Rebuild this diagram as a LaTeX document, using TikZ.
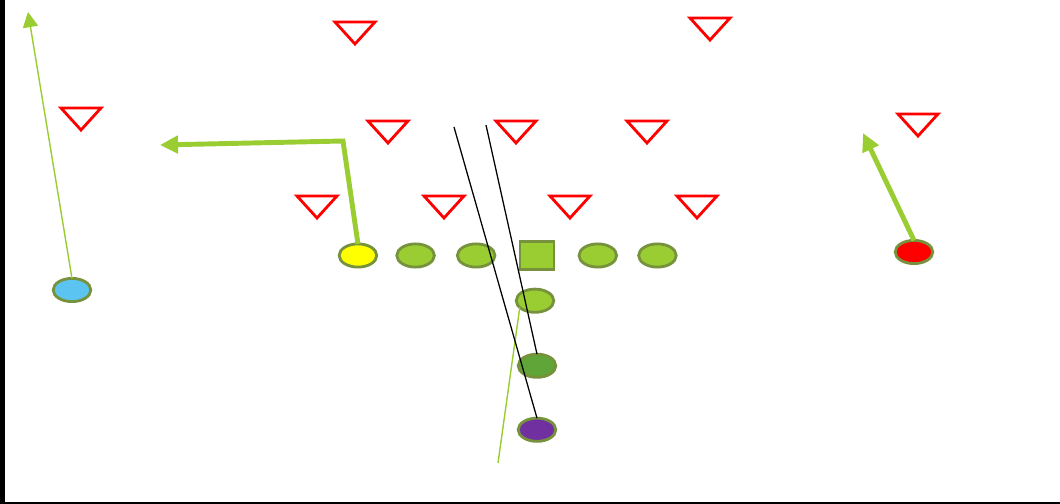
\documentclass[tikz,border=0pt]{standalone}
\definecolor{routecol}{RGB}{154,205,50}
\definecolor{olinecol}{RGB}{118,146,60}
\definecolor{defcol}{RGB}{255,0,0}
\definecolor{wrcol}{RGB}{91,196,241}
\definecolor{slotcol}{RGB}{255,255,0}
\definecolor{fbcol}{RGB}{95,165,55}
\definecolor{qbcol}{RGB}{112,48,160}
\usepackage{tikz}
\usetikzlibrary{shapes.geometric,arrows.meta,positioning}
\tikzset{
  player/.style={ellipse,draw=olinecol,fill=routecol,line width=2pt,inner sep=0pt,outer sep=0pt,minimum width=0.94cm,minimum height=0.58cm},
  center/.style={rectangle,draw=olinecol,fill=routecol,line width=2pt,inner sep=0pt,outer sep=0pt,minimum width=0.85cm,minimum height=0.72cm},
  defender/.style={draw=defcol,line width=2pt,line join=miter},
  thickroute/.style={draw=routecol,line width=3.5pt,-{Triangle[length=0.45cm,width=0.43cm]}},
  thinroute/.style={draw=routecol,line width=1pt},
  blockline/.style={draw=black,line width=0.9pt}
}
\begin{document}
\begin{tikzpicture}[x=0.025cm,y=-0.025cm]
      \useasboundingbox (0,0) rectangle (1060,504);
      \fill[black] (0,0) rectangle (5,504);
      \fill[black] (0,501.5) rectangle (1060,504);
      % defense
      \foreach \x/\y in {355/33,710/29,81/119,388/132,516/132,647/132,918/125,317/207,444/207,570/207,697/207}
        \draw[defender] ({\x-20},{\y-11}) -- ({\x+20},{\y-11}) -- (\x,{\y+11}) -- cycle;
      % offense
      \node[center] (c) at (537,255.5) {};
      \node[player,left=0.625cm of c] (lg) {};
      \node[player,left=0.575cm of lg] (lt) {};
      \node[player,fill=slotcol,left=0.5cm of lt] (sl) {};
      \node[player,right=0.625cm of c] (rg) {};
      \node[player,right=0.55cm of rg] (rt) {};
      \node[player,below=0.48cm of c,xshift=-0.05cm] (hb) {};
      \node[player,fill=fbcol,below=1.045cm of hb,xshift=0.05cm] (fb) {};
      \node[player,fill=qbcol,below=1.02cm of fb] (qb) {};
      \node[player,fill=wrcol] (wr) at (72,290) {};
      \node[player,fill=defcol] (x) at (914,252) {};
      % routes
      \coordinate (wrtip) at (28,12);
      \coordinate (slbend) at (343,141);
      \coordinate (sltip) at (160,145);
      \coordinate (xtip) at (863,133);
      \coordinate (hbend) at (498,463);
      \coordinate (bk1) at (454,127);
      \coordinate (bk2) at (486,125);
      \draw[thinroute,-{Triangle[length=0.38cm,width=0.38cm]}] (wr.north) -- (wrtip);
      \draw[thickroute,line join=miter] (sl.north) -- (slbend) -- (sltip);
      \draw[thickroute] (x.north) -- (xtip);
      \draw[thinroute] (hb.204) -- (hbend);
      \draw[blockline] (bk1) -- (qb.north);
      \draw[blockline] (bk2) -- (fb.north);
    \end{tikzpicture}
\end{document}
